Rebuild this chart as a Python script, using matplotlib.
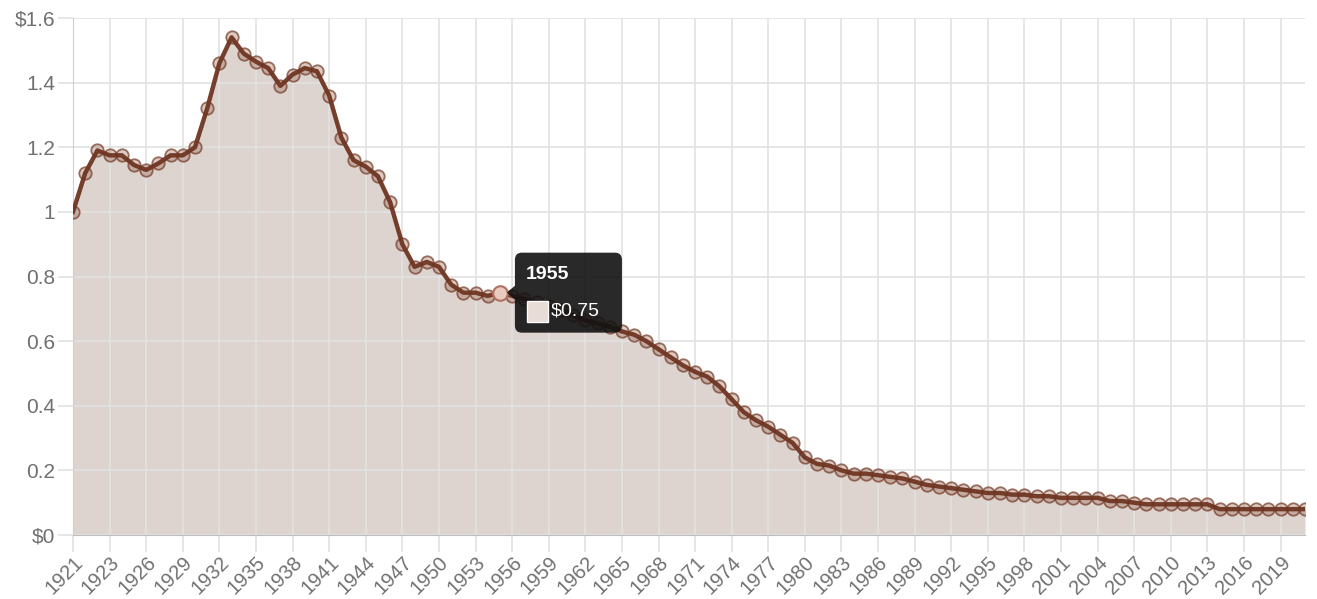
import matplotlib
matplotlib.use("Agg")
import matplotlib.pyplot as plt
from matplotlib.patches import FancyBboxPatch, Polygon, Rectangle

plt.rcParams["font.family"] = ["Liberation Sans", "DejaVu Sans"]

# year labels as they appear on the category axis (first year shows twice)
years = ["1921", "1921", "1922"] + [str(y) for y in range(1923, 2022)]

values = [
    1.00, 1.12, 1.19, 1.175, 1.175, 1.145, 1.13, 1.15, 1.175, 1.175,
    1.20, 1.32, 1.46, 1.54, 1.49, 1.465, 1.445, 1.39, 1.425, 1.445,
    1.435, 1.36, 1.23, 1.16, 1.14, 1.11, 1.03, 0.90, 0.83, 0.845,
    0.83, 0.775, 0.75, 0.75, 0.74, 0.75, 0.74, 0.73, 0.72, 0.71,
    0.695, 0.68, 0.665, 0.655, 0.645, 0.63, 0.62, 0.60, 0.575, 0.55,
    0.525, 0.505, 0.49, 0.46, 0.42, 0.38, 0.355, 0.335, 0.31, 0.285,
    0.24, 0.22, 0.215, 0.20, 0.19, 0.19, 0.185, 0.18, 0.175, 0.165,
    0.155, 0.15, 0.145, 0.14, 0.135, 0.13, 0.13, 0.125, 0.125, 0.12,
    0.12, 0.115, 0.115, 0.115, 0.115, 0.105, 0.105, 0.10, 0.095, 0.095,
    0.095, 0.095, 0.095, 0.095, 0.08, 0.08, 0.08, 0.08, 0.08, 0.08,
    0.08, 0.08,
]

y_ticks = [0, 0.2, 0.4, 0.6, 0.8, 1.0, 1.2, 1.4, 1.6]
y_labels = ["$0", "0.2", "0.4", "0.6", "0.8", "1", "1.2", "1.4", "$1.6"]

hover_index = 35
hover_label = "1955"
hover_value = "$0.75"

line_color = "#6f3522"
fill_color = "#ddd4d0"
grid_color = "#e2e2e2"
text_color = "#707070"

W, H = 1317, 599
fig = plt.figure(figsize=(W / 100, H / 100), dpi=100)
ax = fig.add_axes([73 / W, (H - 535) / H, (1305 - 73) / W, (535 - 18) / H])

x = list(range(len(values)))
ax.fill_between(x, values, 0, color=fill_color, zorder=1, linewidth=0)
ax.scatter(x, values, s=80, facecolor=(0.55, 0.30, 0.22, 0.30),
           edgecolor=(0.45, 0.22, 0.14, 0.70), linewidth=1.3, zorder=3)
ax.plot(x, values, color=line_color, linewidth=3.2, zorder=4, alpha=0.95)
# hovered point is drawn lighter, as in the browser
ax.scatter([hover_index], [values[hover_index]], s=110, facecolor="#e9c9c0",
           edgecolor="#b07060", linewidth=1.5, zorder=5)

ax.set_xlim(0, len(values) - 1)
ax.set_ylim(0, 1.6)

tick_pos = list(range(0, len(values), 3))
ax.set_xticks(tick_pos)
ax.set_xticklabels([years[i] for i in tick_pos], rotation=45, ha="right",
                   va="top", rotation_mode="anchor", fontsize=14.5,
                   color=text_color)
ax.set_yticks(y_ticks)
ax.set_yticklabels(y_labels, fontsize=15, color=text_color)

ax.grid(True, color=grid_color, linewidth=1.2, zorder=2)
for line in ax.get_xgridlines() + ax.get_ygridlines():
    line.set_zorder(2)
ax.tick_params(axis="y", length=11, color=grid_color, width=1.2, pad=2)
ax.tick_params(axis="x", length=12, color=grid_color, width=1.2, pad=1)

for side in ["top", "right"]:
    ax.spines[side].set_visible(False)
ax.spines["left"].set_color("#cfcfcf")
ax.spines["bottom"].set_color("#bdbdbd")
ax.spines["left"].set_zorder(2)
ax.spines["bottom"].set_zorder(2)

# hover tooltip (Chart.js style), placed relative to the hovered point
fig.canvas.draw()
px, py = ax.transData.transform((hover_index, values[hover_index]))
box_l, box_b = px + 15, py - 40
box_w, box_h = 107, 80
tip = FancyBboxPatch((box_l, box_b), box_w, box_h,
                     boxstyle="round,pad=0,rounding_size=7",
                     transform=None, facecolor=(0.07, 0.07, 0.07, 0.9),
                     edgecolor="none", zorder=10)
fig.patches.append(tip)
caret = Polygon([(box_l, py + 7), (box_l - 8, py), (box_l, py - 7)], closed=True,
                transform=None, facecolor=(0.07, 0.07, 0.07, 0.9),
                edgecolor="none", zorder=10)
fig.patches.append(caret)
swatch = Rectangle((box_l + 12, box_b + 11), 21, 21, transform=None,
                   facecolor="#e7dcd6", edgecolor="white", linewidth=1, zorder=11)
fig.patches.append(swatch)
fig.text((box_l + 11) / W, (box_b + 58) / H, hover_label, color="white",
         fontsize=14, fontweight="bold", va="center", ha="left", zorder=12)
fig.text((box_l + 36) / W, (box_b + 22) / H, hover_value, color="white",
         fontsize=14, va="center", ha="left", zorder=12)

fig.savefig("out.png", dpi=100)
